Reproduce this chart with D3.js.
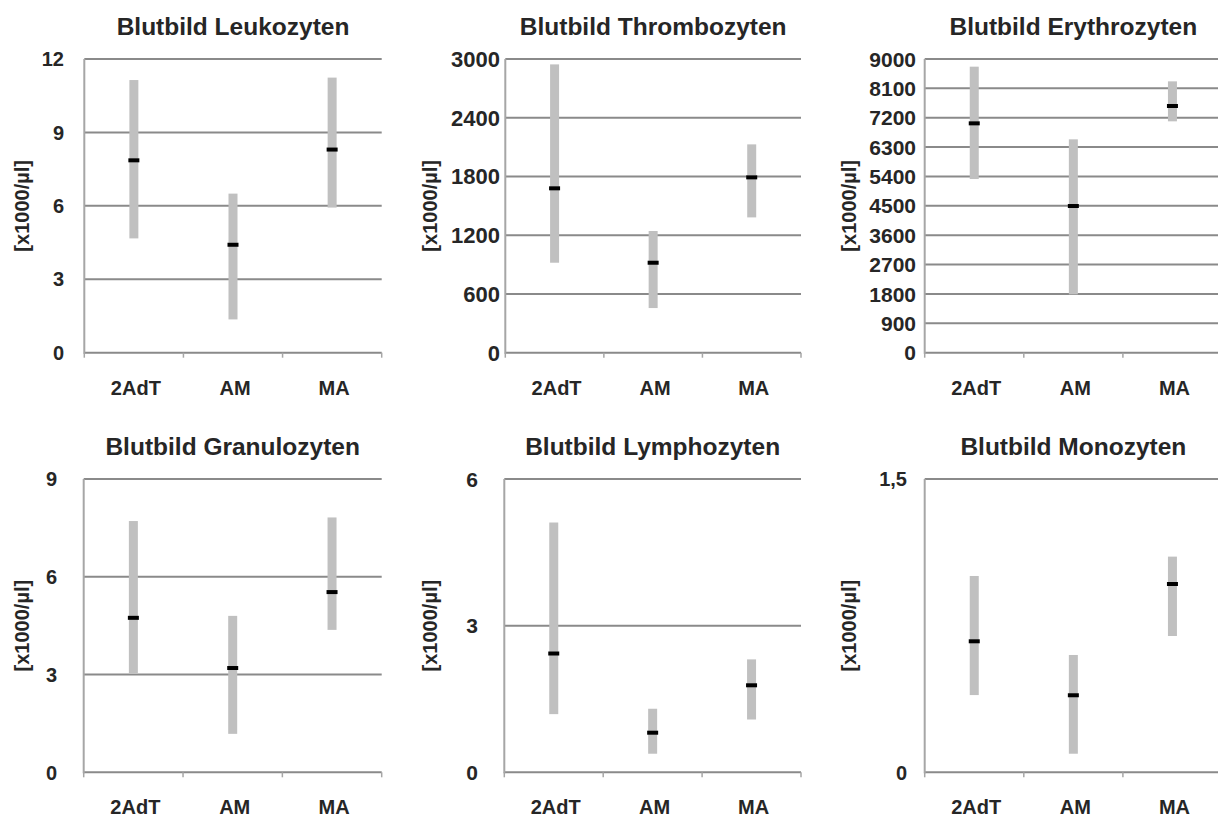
<!DOCTYPE html>
<html>
<head>
<meta charset="utf-8">
<script src="https://cdn.jsdelivr.net/npm/d3@7"></script>
<style>
  html, body { margin: 0; padding: 0; background: #fff; }
  svg { display: block; font-family: "Liberation Sans", Arial, sans-serif; }
</style>
</head>
<body>
<svg id="chart" width="1218" height="818"></svg>
<script>
// Group labels on the x axis
const categories = ["2AdT", "AM", "MA"];

// One entry per panel, left to right, top to bottom
const panelTitles = [
  "Blutbild Leukozyten", "Blutbild Thrombozyten", "Blutbild Erythrozyten",
  "Blutbild Granulozyten", "Blutbild Lymphozyten", "Blutbild Monozyten"
];
const yAxisLabel = "[x1000/µl]";
const yMaxValues = [12, 3000, 9000, 9, 6, 1.5];
const yTickSteps = [3, 600, 900, 3, 3, 1.5];

// Range minimum, range maximum and median per group [2AdT, AM, MA]
const lowValues = [
  [4.67, 1.36, 5.93],
  [919, 456, 1382],
  [5322, 1788, 7090],
  [3.04, 1.18, 4.37],
  [1.19, 0.38, 1.08],
  [0.395, 0.095, 0.697]
];
const highValues = [
  [11.14, 6.50, 11.24],
  [2945, 1243, 2128],
  [8765, 6538, 8315],
  [7.71, 4.80, 7.82],
  [5.11, 1.30, 2.31],
  [1.004, 0.600, 1.103]
];
const medianValues = [
  [7.86, 4.41, 8.30],
  [1679, 919, 1791],
  [7028, 4495, 7560],
  [4.74, 3.20, 5.53],
  [2.43, 0.81, 1.78],
  [0.670, 0.394, 0.963]
];

// Panel geometry (plot box) and label placement
const layout = [
  { x0: 84.3, x1: 381.7, y0: 59, y1: 352.7, tickRight: 64, tickSize: 20, yTitleX: 22 },
  { x0: 505.3, x1: 801, y0: 59, y1: 352.7, tickRight: 500, tickSize: 22, yTitleX: 430 },
  { x0: 924.7, x1: 1222, y0: 59, y1: 352.7, tickRight: 916, tickSize: 21, yTitleX: 849 },
  { x0: 83.7, x1: 381.7, y0: 479, y1: 772.3, tickRight: 57, tickSize: 20, yTitleX: 22 },
  { x0: 504.3, x1: 801, y0: 479, y1: 772.3, tickRight: 478, tickSize: 21, yTitleX: 430 },
  { x0: 924.7, x1: 1222, y0: 479, y1: 772.3, tickRight: 907, tickSize: 20, yTitleX: 849 }
];

const deLocale = d3.formatLocale({ decimal: ",", thousands: "", grouping: [3], currency: ["", " €"] });
const fmt = deLocale.format("~f");

const svg = d3.select("#chart");
const textColor = "#262626";
const gridColor = "#8a8a8a";
const axisColor = "#a6a6a6";
const barColor = "#c0c0c0";

panelTitles.forEach((title, i) => {
  const L = layout[i];
  const g = svg.append("g");

  const x = d3.scaleBand().domain(categories).range([L.x0, L.x1]).padding(0);
  const y = d3.scaleLinear().domain([0, yMaxValues[i]]).range([L.y1, L.y0]);
  const ticks = d3.range(0, yMaxValues[i] + yTickSteps[i] / 2, yTickSteps[i]);

  // horizontal gridlines (the zero line doubles as x axis)
  g.append("g").selectAll("line").data(ticks).join("line")
    .attr("x1", L.x0).attr("x2", L.x1)
    .attr("y1", d => y(d)).attr("y2", d => y(d))
    .attr("stroke", gridColor).attr("stroke-width", 2);

  // vertical axis line
  g.append("line")
    .attr("x1", L.x0).attr("x2", L.x0)
    .attr("y1", L.y0).attr("y2", L.y1 + 1)
    .attr("stroke", axisColor).attr("stroke-width", 2);

  // category boundary tick marks below the x axis
  const bounds = categories.map(c => x(c)).concat([L.x1]);
  g.append("g").selectAll("line").data(bounds).join("line")
    .attr("x1", d => d).attr("x2", d => d)
    .attr("y1", L.y1).attr("y2", L.y1 + 5)
    .attr("stroke", axisColor).attr("stroke-width", 1.5);

  // y tick labels
  g.append("g").selectAll("text").data(ticks).join("text")
    .attr("x", L.tickRight)
    .attr("y", d => y(d))
    .attr("dy", "0.36em")
    .attr("text-anchor", "end")
    .attr("font-size", L.tickSize)
    .attr("font-weight", "bold")
    .attr("fill", textColor)
    .text(d => fmt(d));

  // x category labels
  g.append("g").selectAll("text").data(categories).join("text")
    .attr("x", d => x(d) + x.bandwidth() / 2 + 2)
    .attr("y", L.y1 + 42)
    .attr("text-anchor", "middle")
    .attr("font-size", 20)
    .attr("font-weight", "bold")
    .attr("fill", textColor)
    .text(d => d);

  // panel title
  g.append("text")
    .attr("x", (L.x0 + L.x1) / 2)
    .attr("y", L.y0 - 24)
    .attr("text-anchor", "middle")
    .attr("font-size", 24.5)
    .attr("font-weight", "bold")
    .attr("fill", textColor)
    .text(title);

  // rotated y axis title
  g.append("text")
    .attr("transform", `translate(${L.yTitleX + 7},${(L.y0 + L.y1) / 2}) rotate(-90)`)
    .attr("text-anchor", "middle")
    .attr("font-size", 20)
    .attr("font-weight", "bold")
    .attr("fill", textColor)
    .text(yAxisLabel);

  // range bars
  const barW = 9;
  g.append("g").selectAll("rect").data(categories).join("rect")
    .attr("x", (d) => x(d) + x.bandwidth() / 2 - barW / 2)
    .attr("y", (d, j) => y(highValues[i][j]))
    .attr("width", barW)
    .attr("height", (d, j) => y(lowValues[i][j]) - y(highValues[i][j]))
    .attr("fill", barColor);

  // median markers
  const medW = 11, medH = 4;
  g.append("g").selectAll("rect").data(categories).join("rect")
    .attr("x", (d) => x(d) + x.bandwidth() / 2 - medW / 2)
    .attr("y", (d, j) => y(medianValues[i][j]) - medH / 2)
    .attr("width", medW)
    .attr("height", medH)
    .attr("fill", "#000");
});
</script>
</body>
</html>
